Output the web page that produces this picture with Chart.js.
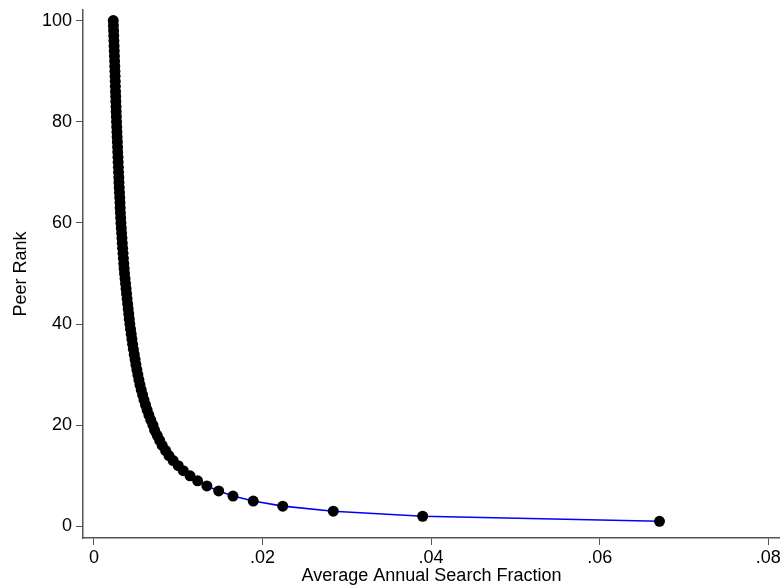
<!DOCTYPE html>
<html>
<head>
    <title>Peer Rank</title>
    <style>
        body {
            margin: 0;
            padding: 0;
            background-color: #ffffff;
        }
        #wrap {
            width: 780px;
            height: 587px;
        }
    </style>
    <script src="https://cdn.jsdelivr.net/npm/chart.js"></script>
</head>
<body>
<div id="wrap"><canvas id="myChart"></canvas></div>
<script>
    // Peer rank (y) and average annual search fraction (x)
    const peerRanks = [
        1, 2, 3, 4, 5, 6, 7, 8, 9, 10,
        11, 12, 13, 14, 15, 16, 17, 18, 19, 20,
        21, 22, 23, 24, 25, 26, 27, 28, 29, 30,
        31, 32, 33, 34, 35, 36, 37, 38, 39, 40,
        41, 42, 43, 44, 45, 46, 47, 48, 49, 50,
        51, 52, 53, 54, 55, 56, 57, 58, 59, 60,
        61, 62, 63, 64, 65, 66, 67, 68, 69, 70,
        71, 72, 73, 74, 75, 76, 77, 78, 79, 80,
        81, 82, 83, 84, 85, 86, 87, 88, 89, 90,
        91, 92, 93, 94, 95, 96, 97, 98, 99, 100
    ];
    const searchFraction = [
        0.0671, 0.0390, 0.0284, 0.0224, 0.0189, 0.0165, 0.0148, 0.0134, 0.0123, 0.0114,
        0.0106, 0.0100, 0.0094, 0.0089, 0.0085, 0.0081, 0.0078, 0.0075, 0.0072, 0.0070,
        0.00675, 0.00652, 0.00631, 0.00612, 0.00594, 0.00577, 0.00561, 0.00546, 0.00533, 0.00521,
        0.00509, 0.00498, 0.00488, 0.00478, 0.00468, 0.00459, 0.00450, 0.00442, 0.00434, 0.00426,
        0.00419, 0.00413, 0.00406, 0.00400, 0.00393, 0.00387, 0.00381, 0.00375, 0.00369, 0.00363,
        0.00358, 0.00354, 0.00349, 0.00345, 0.00340, 0.00336, 0.00332, 0.00328, 0.00324, 0.00320,
        0.00317, 0.00314, 0.00311, 0.00309, 0.00306, 0.00303, 0.00300, 0.00297, 0.00295, 0.00292,
        0.00290, 0.00287, 0.00285, 0.00282, 0.00280, 0.00278, 0.00275, 0.00273, 0.00270, 0.00268,
        0.00266, 0.00264, 0.00262, 0.00260, 0.00258, 0.00256, 0.00254, 0.00253, 0.00251, 0.00249,
        0.00247, 0.00245, 0.00243, 0.00241, 0.00239, 0.00237, 0.00235, 0.00233, 0.00231, 0.00229
    ];

    // Tick positions and their labels
    const xTicks = [0, 0.02, 0.04, 0.06, 0.08];
    const xTickLabels = ['0', '.02', '.04', '.06', '.08'];
    const yTicks = [0, 20, 40, 60, 80, 100];
    const yTickLabels = ['0', '20', '40', '60', '80', '100'];

    const points = peerRanks.map((r, i) => ({ x: searchFraction[i], y: r }));

    const axisColor = '#555555';
    const fontFamily = '"Liberation Sans", Arial, Helvetica, sans-serif';

    const ctx = document.getElementById('myChart').getContext('2d');
    new Chart(ctx, {
        type: 'scatter',
        data: {
            datasets: [{
                data: points,
                showLine: true,
                borderColor: '#0000ff',
                borderWidth: 1.6,
                pointRadius: 5.5,
                pointBorderWidth: 0,
                pointBackgroundColor: '#000000',
                pointBorderColor: '#000000',
                tension: 0
            }]
        },
        options: {
            responsive: true,
            maintainAspectRatio: false,
            animation: false,
            layout: {
                autoPadding: false,
                padding: { top: 10, right: 0, bottom: 0, left: 0 }
            },
            scales: {
                x: {
                    type: 'linear',
                    min: -0.0013,
                    max: 0.0814,
                    afterBuildTicks: (axis) => { axis.ticks = xTicks.map(v => ({ value: v })); },
                    afterFit: (axis) => {
                        axis.height = 49;
                        axis.paddingLeft = 0;
                        axis.paddingRight = 0;
                    },
                    ticks: {
                        color: '#000000',
                        font: { family: fontFamily, size: 18 },
                        padding: 2,
                        maxRotation: 0,
                        autoSkip: false,
                        callback: (v) => xTickLabels[xTicks.indexOf(v)]
                    },
                    grid: { drawOnChartArea: false, drawTicks: true, tickLength: 7, color: axisColor },
                    border: { display: true, color: axisColor, width: 1.5 },
                    title: {
                        display: true,
                        text: 'Average Annual Search Fraction',
                        color: '#000000',
                        font: { family: fontFamily, size: 18 },
                        padding: { top: 0, bottom: 0 }
                    }
                },
                y: {
                    type: 'linear',
                    min: -2.3,
                    max: 102.1,
                    afterBuildTicks: (axis) => { axis.ticks = yTicks.map(v => ({ value: v })); },
                    afterFit: (axis) => {
                        axis.width = 83;
                        axis.paddingTop = 0;
                        axis.paddingBottom = 0;
                    },
                    ticks: {
                        color: '#000000',
                        font: { family: fontFamily, size: 18 },
                        padding: 4,
                        autoSkip: false,
                        callback: (v) => yTickLabels[yTicks.indexOf(v)]
                    },
                    grid: { drawOnChartArea: false, drawTicks: true, tickLength: 7, color: axisColor },
                    border: { display: true, color: axisColor, width: 1.5 },
                    title: {
                        display: true,
                        text: 'Peer Rank',
                        color: '#000000',
                        font: { family: fontFamily, size: 18 },
                        padding: { top: 10, bottom: 0 }
                    }
                }
            },
            plugins: {
                legend: { display: false },
                tooltip: { enabled: false }
            }
        }
    });
</script>
</body>
</html>
